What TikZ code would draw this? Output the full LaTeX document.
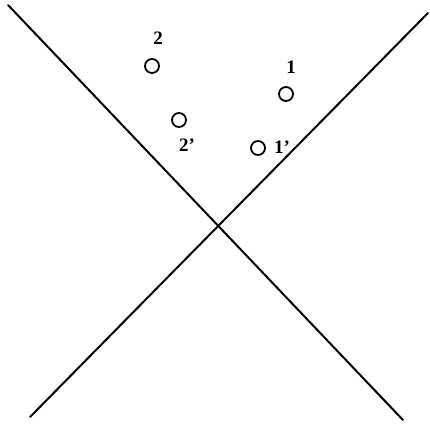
\documentclass[tikz,border=0pt]{standalone}
\usepackage{fontspec}
\setmainfont{Liberation Serif}
\usetikzlibrary{positioning}

\begin{document}
\begin{tikzpicture}[
    x=1pt, y=-1pt,
    dot/.style={circle, draw, line width=1.8pt, minimum size=14pt, inner sep=0pt},
    tag/.style={inner sep=0pt, font=\fontsize{19}{21}\selectfont\bfseries},
    cross/.style={line width=2pt, line cap=round}
]
\useasboundingbox (0,0) rectangle (430,423);
% ends of the two lines
\coordinate (tl) at (8,5);
\coordinate (br) at (403,420);
\coordinate (tr) at (428,13);
\coordinate (bl) at (30,417);
\draw[cross] (tl) -- (br);
\draw[cross] (tr) -- (bl);

\node[dot] (two) at (152,66) {};
\node[dot] (one) at (286,94) {};
\node[dot] (twop) at (179,120) {};
\node[dot] (onep) at (258,148) {};

\node[tag, above=13pt of two, xshift=6pt] (ltwo) {2};
\node[tag, above=12pt of one, xshift=5pt] (lone) {1};
\node[tag, below=11pt of twop, xshift=8pt] (ltwop) {2’};
\node[tag, right=8pt of onep, yshift=1pt] (lonep) {1’};
\end{tikzpicture}
\end{document}
